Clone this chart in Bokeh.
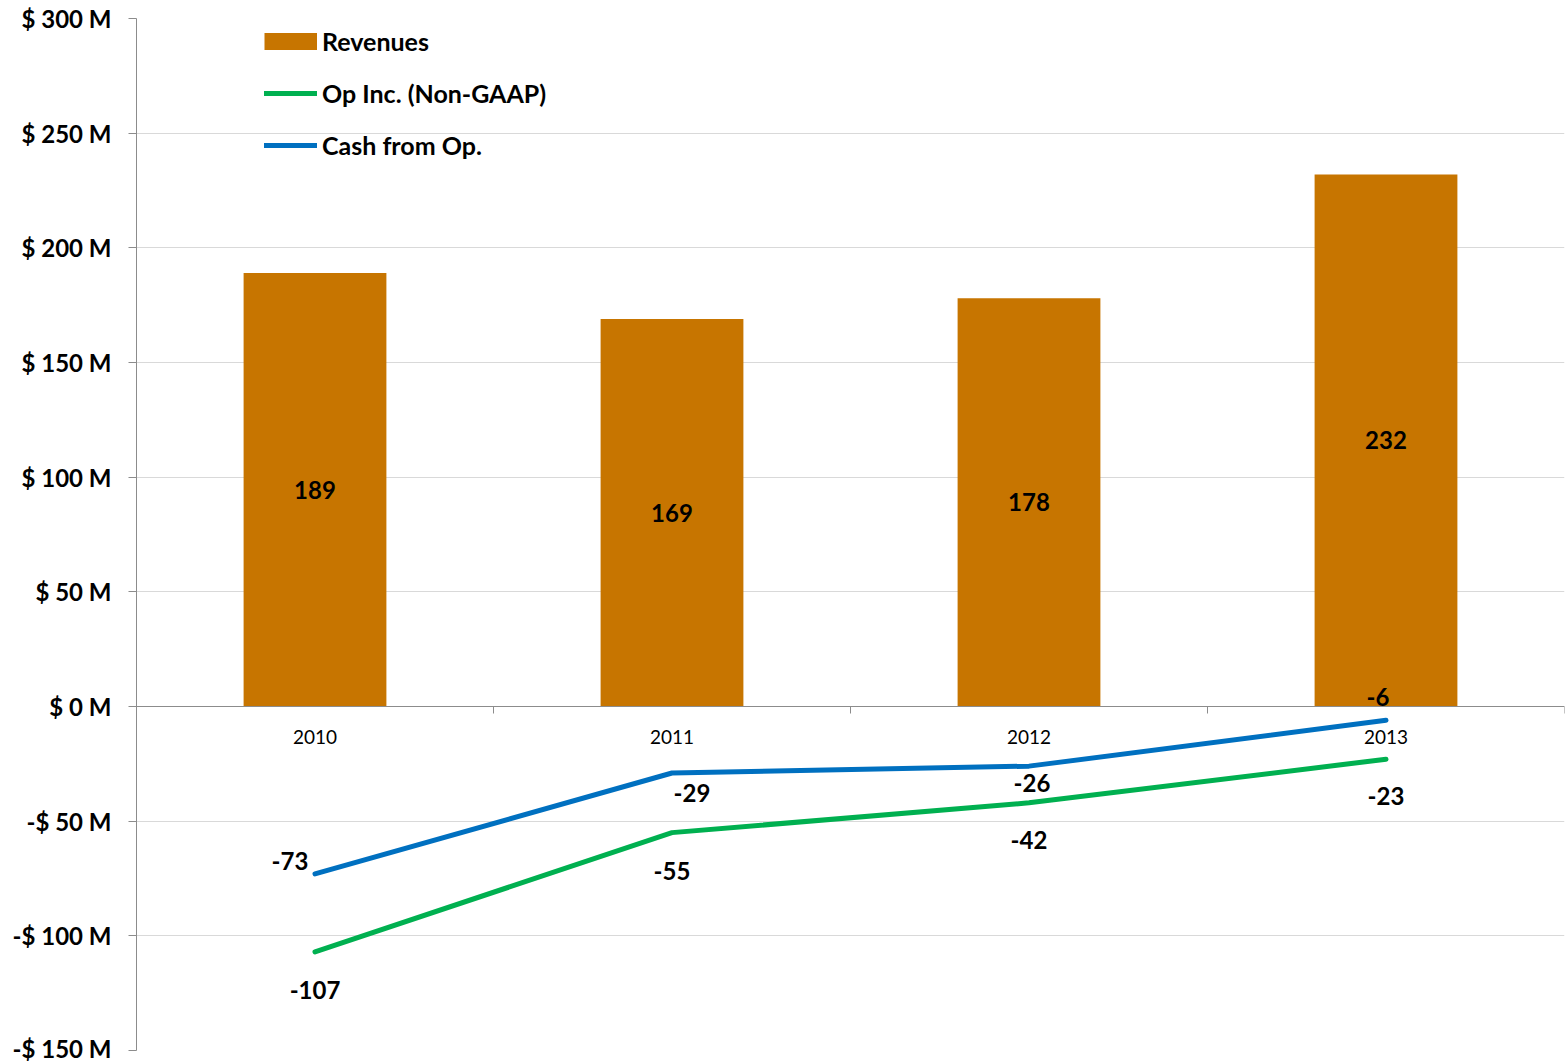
from bokeh.plotting import figure
from bokeh.models import (ColumnDataSource, FixedTicker, Range1d, Legend, LegendItem,
                          CustomJSTickFormatter)
from bokeh.core.properties import value
from bokeh.embed import file_html
from bokeh.resources import INLINE

# ---- data ----
years = ["2010", "2011", "2012", "2013"]
revenues = [189, 169, 178, 232]
op_income = [-107, -55, -42, -23]
cash_from_op = [-73, -29, -26, -6]
y_ticks = [-150, -100, -50, 0, 50, 100, 150, 200, 250, 300]

# ---- label placement (style, screen px) ----
cash_label_dx = [-25, 20, 3, -8]
cash_label_dy = [-13, 20, 17, -23]
op_label_dx = [0, 0, 0, 0]
op_label_dy = [38, 38, 37, 37]

FONT = "Lato"
BROWN = "#C77500"
GREEN = "#00B050"
BLUE = "#0070C0"
AXIS = "#8C8C8C"
GRID = "#D9D9D9"

n = len(years)
xs = [i + 0.5 for i in range(n)]

src = ColumnDataSource(dict(
    x=xs, year=years, rev=revenues, rev_mid=[r / 2 for r in revenues],
    rev_lbl=[str(r) for r in revenues],
    op=op_income, op_lbl=[str(v) for v in op_income],
    cash=cash_from_op, cash_lbl=[str(v) for v in cash_from_op],
    cdx=cash_label_dx, cdy=cash_label_dy, odx=op_label_dx, ody=op_label_dy,
))

p = figure(width=1567, height=1062, x_range=Range1d(0, n), y_range=Range1d(-150, 300),
           output_backend="svg", toolbar_location=None,
           min_border_left=136, min_border_right=3, min_border_top=18, min_border_bottom=12)
p.outline_line_color = None
p.background_fill_color = "white"

# bars
p.vbar(x="x", top="rev", bottom=0, width=0.4, fill_color=BROWN, line_color=None, source=src)

# lines
r_op = p.line("x", "op", line_width=5, line_color=GREEN, line_cap="round", source=src)
r_cash = p.line("x", "cash", line_width=5, line_color=BLUE, line_cap="round", source=src)
# legend swatch for the bars (a single-point line draws nothing in the plot)
dummy = p.line(x=xs[:1], y=revenues[:1], line_width=17, line_color=BROWN, line_cap="butt")

lbl = dict(text_font=value(FONT), text_font_style="bold", text_font_size="24px",
           text_align="center", text_baseline="middle", text_color="black")
p.text(x="x", y="rev_mid", text="rev_lbl", source=src, **lbl)
p.text(x="x", y="op", text="op_lbl", x_offset="odx", y_offset="ody", source=src, **lbl)
p.text(x="x", y="cash", text="cash_lbl", x_offset="cdx", y_offset="cdy", source=src, **lbl)

# y axis
yax = p.yaxis[0]
yax.ticker = FixedTicker(ticks=y_ticks)
yax.formatter = CustomJSTickFormatter(code='return (tick < 0 ? "-" : "") + "$ " + Math.abs(tick) + " M";')
yax.axis_line_color = AXIS
yax.major_tick_line_color = AXIS
yax.major_tick_out = 8
yax.major_tick_in = 0
yax.minor_tick_line_color = None
yax.major_label_text_font = FONT
yax.major_label_text_font_style = "bold"
yax.major_label_text_font_size = "24px"
yax.major_label_text_color = "black"
yax.major_label_standoff = 17

# x axis at zero
xax = p.xaxis[0]
xax.fixed_location = 0
xax.ticker = FixedTicker(ticks=xs, minor_ticks=list(range(n + 1)))
xax.formatter = CustomJSTickFormatter(args=dict(years=years), code="return years[Math.floor(tick)];")
xax.axis_line_color = AXIS
xax.major_tick_line_color = None
xax.major_tick_out = 0
xax.major_tick_in = 0
xax.minor_tick_line_color = AXIS
xax.minor_tick_out = 7
xax.minor_tick_in = 0
xax.major_label_text_font = FONT
xax.major_label_text_font_size = "19px"
xax.major_label_text_color = "black"
xax.major_label_standoff = 16

p.xgrid.grid_line_color = None
p.ygrid.grid_line_color = GRID
p.ygrid.ticker = FixedTicker(ticks=y_ticks)

legend = Legend(items=[
    LegendItem(label="Revenues", renderers=[dummy]),
    LegendItem(label="Op Inc. (Non-GAAP)", renderers=[r_op]),
    LegendItem(label="Cash from Op.", renderers=[r_cash]),
], location=(128, 890), padding=0, margin=0, border_line_color=None,
    background_fill_alpha=0, label_standoff=5, glyph_width=53, glyph_height=20,
    label_height=20, spacing=22, label_text_font=FONT, label_text_font_style="bold",
    label_text_font_size="25px", label_text_color="black")
p.add_layout(legend)

open("out.html", "w").write(file_html(p, INLINE))
